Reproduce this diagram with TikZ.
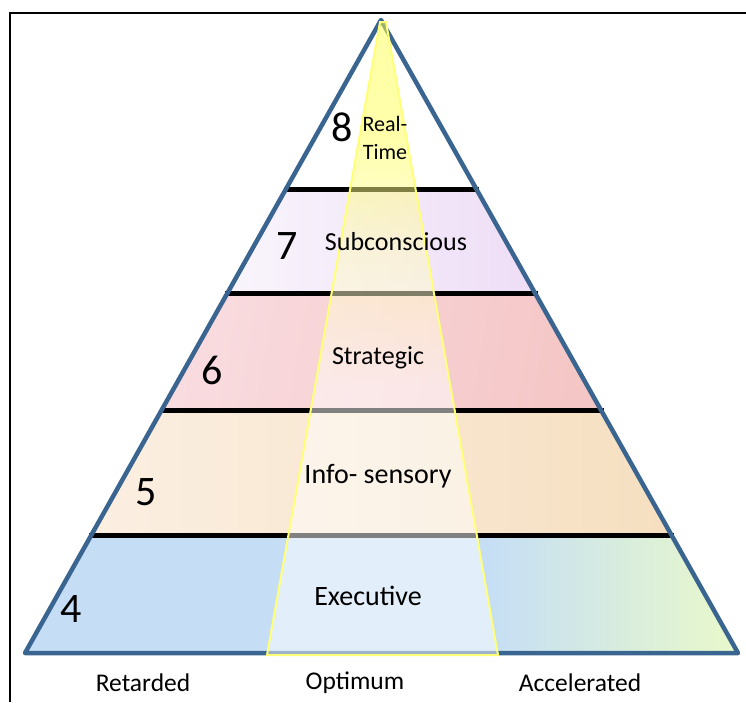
\documentclass[tikz,border=0pt]{standalone}
\usepackage{fontspec}
\setmainfont{Carlito}
\usetikzlibrary{calc}
\definecolor{outl}{RGB}{59,101,145}
\definecolor{subL}{RGB}{249,245,252}
\definecolor{subR}{RGB}{238,221,246}
\definecolor{strL}{RGB}{249,220,224}
\definecolor{strR}{RGB}{245,198,198}
\definecolor{infL}{RGB}{251,239,226}
\definecolor{infR}{RGB}{246,223,192}
\definecolor{exB}{RGB}{197,222,245}
\definecolor{exG}{RGB}{230,247,205}
\definecolor{yelT}{RGB}{255,255,60}
\definecolor{yelQ}{RGB}{255,255,85}
\definecolor{yelM}{RGB}{255,250,185}
\definecolor{yelE}{RGB}{255,255,120}
\pgfdeclareverticalshading{beam}{100bp}{color(0bp)=(white); color(46bp)=(white); color(57bp)=(yelM); color(66bp)=(yelQ); color(100bp)=(yelT)}
\tikzset{
  bar/.style={line width=5pt, black},
  lbl/.style={inner sep=0pt, font=\fontsize{26}{30}\selectfont},
  num/.style={inner sep=0pt, font=\fontsize{42}{46}\selectfont},
}
\begin{document}
\begin{tikzpicture}[x=1pt,y=-1pt]
\useasboundingbox (0,0) rectangle (746,702);
% frame
\coordinate (fTL) at (10,13);
\coordinate (fTR) at (746,13);
\coordinate (fBL) at (10,702);
\draw[line width=2pt] (fBL) -- (fTL) -- (fTR);
% pyramid corners
\coordinate (A) at (381,20);
\coordinate (BL) at (25,653);
\coordinate (BR) at (738,653);
\foreach \n/\t in {1/0.267,2/0.4313,3/0.6161,4/0.8136}{
  \coordinate (L\n) at ($(A)!\t!(BL)$);
  \coordinate (R\n) at ($(A)!\t!(BR)$);
}
% bands
\shade[left color=subL, right color=subR] (L1) -- (R1) -- (R2) -- (L2) -- cycle;
\shade[left color=strL, right color=strR, shading angle=80] (L2) -- (R2) -- (R3) -- (L3) -- cycle;
\shade[left color=infL, right color=infR] (L3) -- (R3) -- (R4) -- (L4) -- cycle;
\begin{scope}
  \clip (L4) -- (R4) -- (BR) -- (BL) -- cycle;
  \fill[exB] (L4) -- (R4) -- (BR) -- (BL) -- cycle;
  \shade[left color=exB, right color=exG] (485,530) rectangle (720,660);
  \fill[exG] (720,530) rectangle (745,660);
\end{scope}
% bars
\foreach \n in {1,2,3,4}{
  \draw[bar] ($(L\n)+(-2,0)$) -- ($(R\n)+(3,0)$);
}
% outline
\draw[outl, line width=4.5pt, line join=round] (A) -- (BR) -- (BL) -- cycle;
% yellow beam
\coordinate (YT1) at (380,22);
\coordinate (YT2) at (386,22);
\coordinate (YB1) at (267,655);
\coordinate (YB2) at (498,655);
\shade[shading=beam, fill opacity=0.5]
  (YT1) -- (YT2) -- (YB2) -- (YB1) -- cycle;
\draw[yelE, line width=2pt] (YT1) -- (YT2) -- (YB2) -- (YB1) -- cycle;
% numbers
\node[num] (n8) at (342,127) {8};
\node[num] (n7) at (287,246) {7};
\node[num] (n6) at (212,370) {6};
\node[num] (n5) at (146,492) {5};
\node[num] (n4) at (71,609) {4};
% labels
\node[lbl, font=\fontsize{22}{26}\selectfont] (rt1) at (385,124) {Real-};
\node[lbl, font=\fontsize{22}{26}\selectfont] (rt2) at (385,152) {Time};
\node[lbl] (sub) at (396,242) {Subconscious};
\node[lbl] (str) at (378,358) {Strategic};
\node[lbl, font=\fontsize{28}{32}\selectfont] (inf) at (378,476) {Info- sensory};
\node[lbl, font=\fontsize{28}{32}\selectfont] (exe) at (368,596) {Executive};
\node[lbl, font=\fontsize{25.5}{30}\selectfont] (ret) at (143,683) {Retarded};
\node[lbl, font=\fontsize{25.5}{30}\selectfont] (opt) at (355,683) {Optimum};
\node[lbl, font=\fontsize{25.5}{30}\selectfont] (acc) at (580,683) {Accelerated};
\end{tikzpicture}
\end{document}
